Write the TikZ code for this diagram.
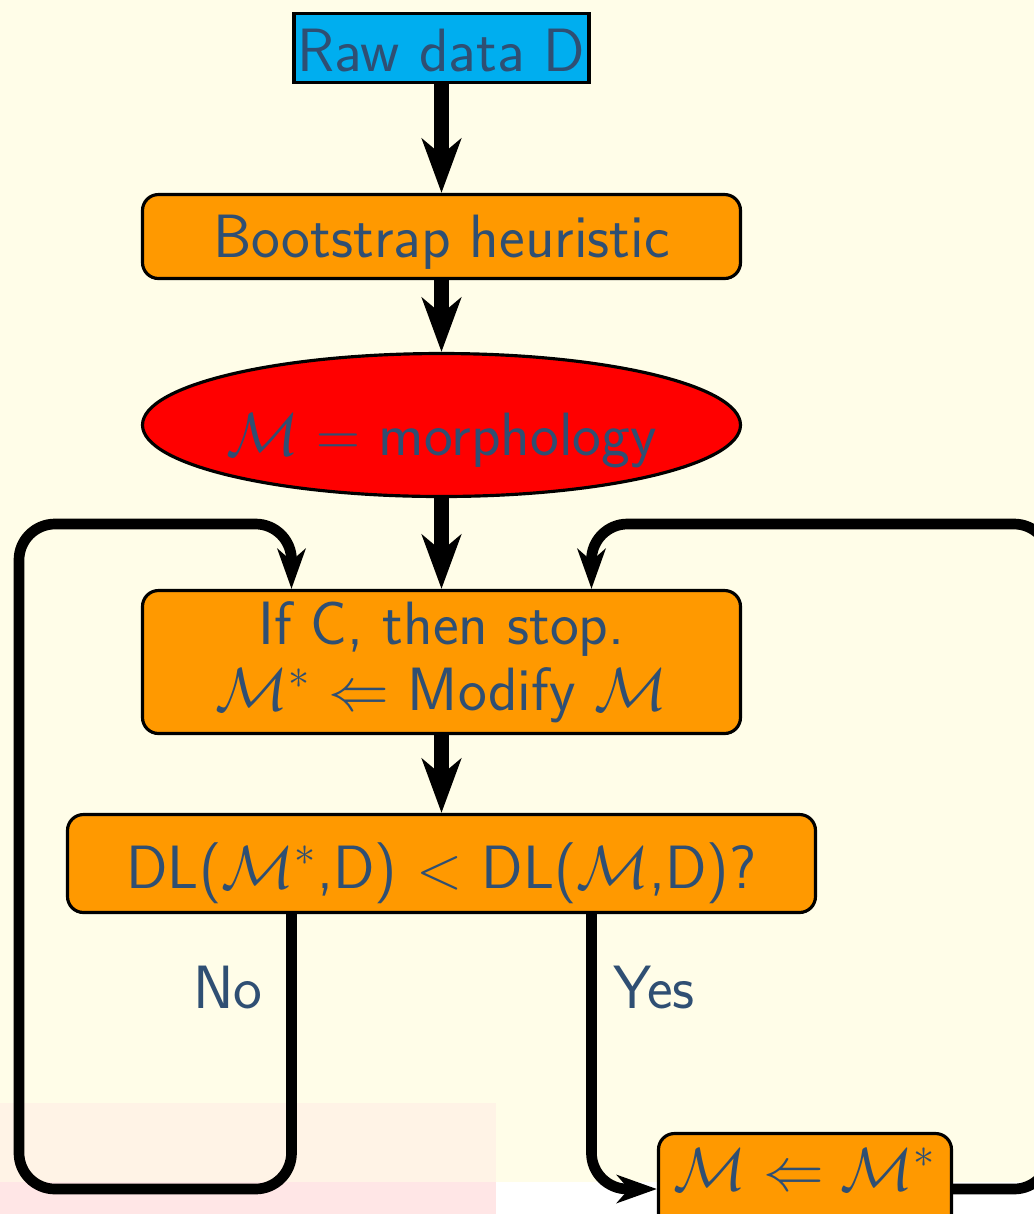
\documentclass[tikz,border=0pt]{standalone}
\usetikzlibrary{shapes.geometric,arrows.meta}

\definecolor{boxorange}{RGB}{255,153,0}
\definecolor{boxcyan}{RGB}{0,174,239}
\definecolor{txtblue}{RGB}{47,79,115}
\definecolor{slideyellow}{HTML}{FFFDE8}
\definecolor{pinkover}{HTML}{FFF3E6}
\definecolor{pinkband}{HTML}{FFE6E6}

\begin{document}
\begin{tikzpicture}[
    box/.style={rectangle, draw, line width=0.9pt, rounded corners=0.16cm, fill=boxorange, minimum width=5.98cm, inner sep=0pt, align=center, text=txtblue, font=\fontsize{17.4}{18.8}\selectfont\sffamily},
    lbl/.style={inner sep=0pt, text=txtblue, font=\fontsize{17.4}{17.4}\selectfont\sffamily},
    mainarrow/.style={-{Stealth[length=0.54cm,width=0.39cm,inset=0.16cm]}, line width=0.15cm},
    loopline/.style={-{Stealth[length=0.40cm,width=0.28cm,inset=0.12cm]}, line width=0.107cm, rounded corners=0.36cm}
]
\useasboundingbox (0,0) rectangle (10.34,-12.14);

% Background of the slide
\fill[white] (0,0) rectangle (10.34,-12.14);
\fill[slideyellow] (0,0) rectangle (10.34,-11.82);
\fill[pinkover] (0,-11.03) rectangle (4.96,-11.82);
\fill[pinkband] (0,-11.82) rectangle (4.96,-12.14);

% Steps
\node[box, fill=boxcyan, sharp corners, minimum width=2.95cm, minimum height=0.69cm, text height=0.5cm, text depth=0.04cm] (raw) at (4.415,-0.48) {Raw data D};
\node[box, minimum height=0.84cm, text height=0.5cm, text depth=0.09cm] (boot) at (4.415,-2.365) {Bootstrap heuristic};
\node[ellipse, draw, line width=0.9pt, fill=red, inner sep=0pt, inner xsep=-0.04cm, minimum width=5.98cm, minimum height=1.43cm, text=txtblue, font=\fontsize{17.4}{17.4}\selectfont\sffamily, text height=0.7cm, text depth=0.1cm] (morph) at (4.415,-4.25) {$\mathcal{M} =$ morphology};
\node[box, minimum height=1.43cm] (modify) at (4.415,-6.62) {If C, then stop.\\$\mathcal{M}^* \Leftarrow$ Modify $\mathcal{M}$};
\node[box, minimum width=7.48cm, minimum height=0.98cm, text height=0.6cm, text depth=0.11cm] (test) at (4.415,-8.635) {DL($\mathcal{M}^*$,D) $<$ DL($\mathcal{M}$,D)?};
\node[box, minimum width=2.93cm, minimum height=1.11cm, text height=0.45cm, text depth=0.43cm] (update) at (8.05,-11.89) {$\mathcal{M} \Leftarrow \mathcal{M}^*$};

% Branch labels
\node[lbl, anchor=east] (no) at (2.63,-9.88) {No};
\node[lbl, anchor=west] (yes) at (6.13,-9.88) {Yes};

% Arrows
\draw[mainarrow] (raw) -- (boot);
\draw[mainarrow] (boot) -- (morph);
\draw[mainarrow] (morph) -- (modify);
\draw[mainarrow] (modify) -- (test);

% Loops back to the modify step
\draw[loopline] ([xshift=-1.5cm]test.south) |- (0.19,-11.89) -- (0.19,-5.24) -| ([xshift=-1.5cm]modify.north);
\draw[loopline] ([xshift=1.5cm]test.south) |- (update.west);
\draw[loopline] (update.east) -- (10.50,-11.89) -- (10.50,-5.24) -| ([xshift=1.5cm]modify.north);

\end{tikzpicture}
\end{document}
